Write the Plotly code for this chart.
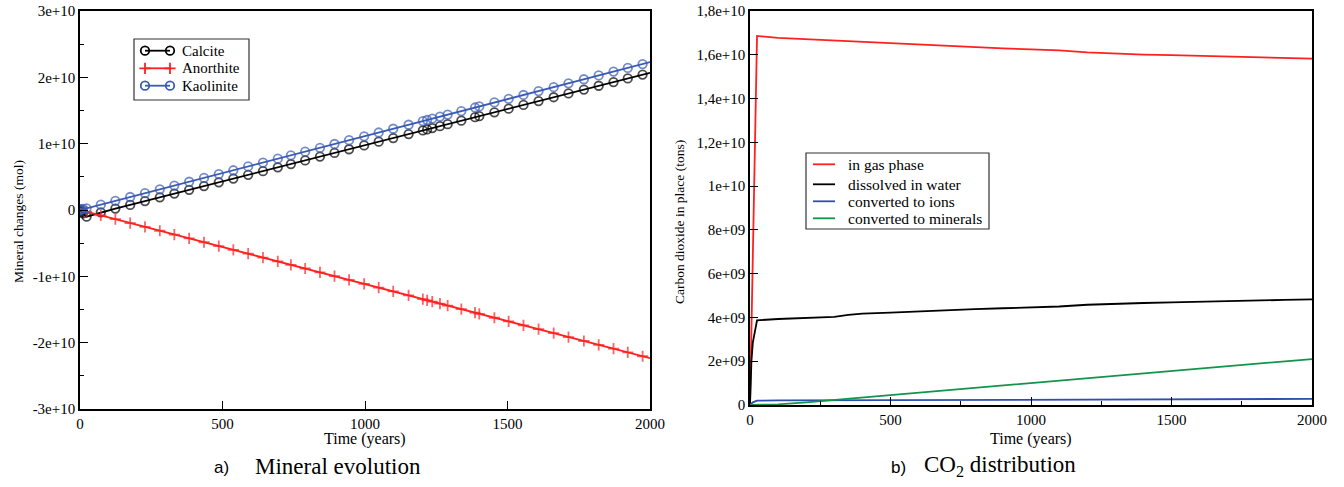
import plotly.graph_objects as go

# ---------------- Panel a) Mineral evolution ----------------
t_min = [0, 2, 5, 10, 23, 73, 124, 176, 228, 280, 331, 383, 435, 487, 538, 590, 642, 694,
         740, 790, 842, 893, 944, 997, 1048, 1099, 1153, 1203, 1218, 1236, 1263, 1290, 1338,
         1386, 1401, 1454, 1504, 1556, 1609, 1662, 1714, 1768, 1820, 1872, 1922, 1974, 2000]
# values in units of 1e9 mol
calcite = [0, -0.1, -0.3, -0.5, -1.0, -0.35, 0.21, 0.77, 1.34, 1.91, 2.47, 3.04, 3.60, 4.17,
           4.73, 5.30, 5.86, 6.43, 6.93, 7.48, 8.05, 8.60, 9.16, 9.74, 10.30, 10.85, 11.44,
           11.99, 12.15, 12.35, 12.64, 12.94, 13.46, 13.99, 14.15, 14.73, 15.28, 15.84, 16.42,
           17.00, 17.57, 18.16, 18.73, 19.29, 19.84, 20.41, 20.69]
anorthite = [0, -0.02, -0.06, -0.11, -0.26, -0.82, -1.39, -1.97, -2.55, -3.13, -3.70, -4.28,
             -4.86, -5.44, -6.01, -6.59, -7.17, -7.75, -8.27, -8.82, -9.41, -9.97, -10.54,
             -11.14, -11.71, -12.28, -12.88, -13.44, -13.61, -13.81, -14.11, -14.41, -14.95,
             -15.48, -15.65, -16.24, -16.80, -17.38, -17.97, -18.56, -19.15, -19.75, -20.33,
             -20.91, -21.47, -22.05, -22.34]
kaolinite = [0, 0.05, 0.10, 0.15, 0.25, 0.81, 1.38, 1.96, 2.54, 3.12, 3.68, 4.26, 4.84, 5.42,
             5.99, 6.57, 7.15, 7.73, 8.25, 8.80, 9.38, 9.95, 10.52, 11.11, 11.68, 12.25, 12.85,
             13.41, 13.57, 13.78, 14.08, 14.38, 14.91, 15.45, 15.62, 16.21, 16.76, 17.34, 17.93,
             18.52, 19.10, 19.71, 20.29, 20.87, 21.42, 22.00, 22.29]

left_ytick_vals = [-3e10, -2e10, -1e10, 0, 1e10, 2e10, 3e10]
left_ytick_text = ["-3e+10", "-2e+10", "-1e+10", "0", "1e+10", "2e+10", "3e+10"]
x_tick_vals = [0, 500, 1000, 1500, 2000]
x_tick_text = ["0", "500", "1000", "1500", "2000"]

# ---------------- Panel b) CO2 distribution ----------------
t_gas = [0, 25, 100, 200, 300, 400, 500, 600, 700, 800, 900, 1000, 1100, 1200, 1300, 1400,
         1500, 1600, 1700, 1800, 1900, 2000]
gas = [0, 1.686, 1.677, 1.671, 1.665, 1.656, 1.650, 1.645, 1.639, 1.634, 1.629, 1.625, 1.620,
       1.611, 1.605, 1.601, 1.598, 1.595, 1.592, 1.589, 1.586, 1.582]  # 1e10 tons

t_diss = [0, 5, 10, 25, 100, 200, 300, 350, 400, 500, 600, 700, 800, 900, 1000, 1100, 1200,
          1300, 1400, 1500, 1600, 1700, 1800, 1900, 2000]
dissolved = [0, 2.0, 2.85, 3.87, 3.93, 3.98, 4.03, 4.12, 4.17, 4.22, 4.28, 4.33, 4.38, 4.42,
             4.46, 4.50, 4.58, 4.63, 4.66, 4.69, 4.71, 4.74, 4.77, 4.80, 4.83]  # 1e9 tons

t_ions = [0, 10, 25, 100, 500, 1000, 1500, 2000]
ions = [0, 0.12, 0.2, 0.21, 0.22, 0.24, 0.26, 0.28]  # 1e9 tons

t_minr = [0, 50, 100, 200, 300, 400, 500, 600, 700, 800, 900, 1000, 1200, 1400, 1600, 1800, 2000]
minerals = [0, 0.0, 0.03, 0.12, 0.23, 0.34, 0.45, 0.56, 0.67, 0.78, 0.90, 1.01, 1.23, 1.45,
            1.67, 1.89, 2.10]  # 1e9 tons

right_ytick_vals = [0, 2e9, 4e9, 6e9, 8e9, 1e10, 1.2e10, 1.4e10, 1.6e10, 1.8e10]
right_ytick_text = ["0", "2e+09", "4e+09", "6e+09", "8e+09", "1e+10", "1,2e+10", "1,4e+10",
                    "1,6e+10", "1,8e+10"]

left_names = ["Calcite", "Anorthite", "Kaolinite"]
right_names = ["in gas phase", "dissolved in water", "converted to ions", "converted to minerals"]

SERIF = "Liberation Serif, Times New Roman, serif"
SANS = "Liberation Sans, Arial, sans-serif"
RED = "#ff2020"
BLUE_L = "#3a5bb5"
BLUE_R = "#2f4fae"
GREEN = "#12944a"

W, H = 1344, 487


def px(xp):
    return xp / W


def py(yp):
    return 1 - yp / H


fig = go.Figure()

n = len(t_min)
msizes = [8.5] * (n - 1) + [0]
psizes = [0, 0, 0, 0] + [8] * (n - 5) + [0]

left_styles = [
    dict(color="black", symbol="circle-open", data=calcite, sizes=msizes, lsize=8.5),
    dict(color=RED, symbol="cross-thin-open", data=anorthite, sizes=psizes, lsize=8),
    dict(color=BLUE_L, symbol="circle-open", data=kaolinite, sizes=msizes, lsize=8.5),
]
for name, st in zip(left_names, left_styles):
    fig.add_trace(go.Scatter(
        x=t_min, y=[v * 1e9 for v in st["data"]], name=name, mode="lines+markers",
        line=dict(color=st["color"], width=1.8),
        marker=dict(symbol=st["symbol"], size=st["sizes"], color=st["color"],
                    line=dict(width=1.8, color=st["color"])),
        xaxis="x", yaxis="y", showlegend=False))

right_series = [(t_gas, [v * 1e10 for v in gas], RED),
                (t_diss, [v * 1e9 for v in dissolved], "black"),
                (t_ions, [v * 1e9 for v in ions], BLUE_R),
                (t_minr, [v * 1e9 for v in minerals], GREEN)]
for name, (tx, vy, col) in zip(right_names, right_series):
    fig.add_trace(go.Scatter(x=tx, y=vy, name=name, mode="lines",
                             line=dict(color=col, width=1.8),
                             xaxis="x2", yaxis="y2", showlegend=False))

# ---- hand-drawn legends on an overlay axis measured in page pixels ----
annotations = []
shapes = []
left_rows = [50.7, 68.3, 85.7]
for name, st, yr in zip(left_names, left_styles, left_rows):
    fig.add_trace(go.Scatter(
        x=[145, 170], y=[yr, yr], mode="lines+markers", showlegend=False, hoverinfo="skip",
        line=dict(color=st["color"], width=1.8),
        marker=dict(symbol=st["symbol"], size=st["lsize"], color=st["color"],
                    line=dict(width=1.8, color=st["color"])),
        xaxis="x3", yaxis="y3"))
    annotations.append(dict(text=name, x=180, y=yr, xref="x3", yref="y3", xanchor="left",
                            yanchor="middle", showarrow=False,
                            font=dict(family=SERIF, size=15, color="black")))
shapes.append(dict(type="rect", xref="x3", yref="y3", x0=134, x1=249, y0=39, y1=100,
                   line=dict(color="#333333", width=1.2), fillcolor="rgba(0,0,0,0)"))

right_rows = [164.3, 184.3, 201.3, 218.3]
for name, (tx, vy, col), yr in zip(right_names, right_series, right_rows):
    fig.add_trace(go.Scatter(
        x=[813, 835], y=[yr, yr], mode="lines", showlegend=False, hoverinfo="skip",
        line=dict(color=col, width=1.8), xaxis="x3", yaxis="y3"))
    annotations.append(dict(text=name, x=846, y=yr, xref="x3", yref="y3", xanchor="left",
                            yanchor="middle", showarrow=False,
                            font=dict(family=SERIF, size=15.5, color="black")))
shapes.append(dict(type="rect", xref="x3", yref="y3", x0=806, x1=989, y0=153, y1=229,
                   line=dict(color="#333333", width=1.2), fillcolor="rgba(0,0,0,0)"))

# ---- axis titles and captions ----
annotations += [
    dict(text="Time (years)", x=365, y=439, xref="x3", yref="y3", xanchor="center",
         yanchor="middle", showarrow=False, font=dict(family=SERIF, size=16, color="black")),
    dict(text="Time (years)", x=1031, y=439, xref="x3", yref="y3", xanchor="center",
         yanchor="middle", showarrow=False, font=dict(family=SERIF, size=16, color="black")),
    dict(text="Mineral changes (mol)", x=18, y=222, xref="x3", yref="y3", xanchor="center",
         yanchor="middle", showarrow=False, textangle=-90,
         font=dict(family=SERIF, size=13.5, color="black")),
    dict(text="Carbon dioxide in place (tons)", x=679, y=222, xref="x3", yref="y3",
         xanchor="center", yanchor="middle", showarrow=False, textangle=-90,
         font=dict(family=SERIF, size=13.5, color="black")),
    dict(text="a)", x=221, y=467, xref="x3", yref="y3", xanchor="center", yanchor="middle",
         showarrow=False, font=dict(family=SANS, size=17, color="black")),
    dict(text="Mineral evolution", x=338, y=466, xref="x3", yref="y3", xanchor="center",
         yanchor="middle", showarrow=False, font=dict(family=SERIF, size=23, color="black")),
    dict(text="b)", x=898, y=467, xref="x3", yref="y3", xanchor="center", yanchor="middle",
         showarrow=False, font=dict(family=SANS, size=17, color="black")),
    dict(text="CO<sub>2</sub> distribution", x=1000, y=466, xref="x3", yref="y3",
         xanchor="center", yanchor="middle", showarrow=False,
         font=dict(family=SERIF, size=23, color="black")),
]

axis_common = dict(showgrid=False, zeroline=False, showline=True, linecolor="black",
                   linewidth=1.5, mirror=True, ticks="inside", ticklen=8, tickwidth=1.2,
                   tickcolor="black", automargin=False, ticklabeloverflow="allow",
                   tickfont=dict(family=SERIF, size=15, color="black"))

fig.update_layout(
    template="none",
    width=W, height=H, margin=dict(l=0, r=0, t=0, b=0, autoexpand=False),
    paper_bgcolor="white", plot_bgcolor="rgba(0,0,0,0)",
    showlegend=False,
    xaxis=dict(domain=[px(80), px(650)], range=[0, 2000], anchor="y",
               tickvals=x_tick_vals, ticktext=x_tick_text, **axis_common),
    yaxis=dict(domain=[py(409), py(11)], range=[-3e10, 3e10], anchor="x",
               tickvals=left_ytick_vals, ticktext=left_ytick_text,
               minor=dict(dtick=5e9, ticks="inside", ticklen=4, tickcolor="black", tickwidth=1.2),
               **axis_common),
    xaxis2=dict(domain=[px(750), px(1312)], range=[0, 2000], anchor="y2",
                tickvals=x_tick_vals, ticktext=x_tick_text,
                minor=dict(dtick=250, ticks="inside", ticklen=4, tickcolor="black", tickwidth=1.2),
                **axis_common),
    yaxis2=dict(domain=[py(405), py(11)], range=[0, 1.8e10], anchor="x2",
                tickvals=right_ytick_vals, ticktext=right_ytick_text, **axis_common),
    xaxis3=dict(domain=[0, 1], range=[0, W], anchor="y3", visible=False,
                automargin=False, fixedrange=True),
    yaxis3=dict(domain=[0, 1], range=[H, 0], anchor="x3", visible=False,
                automargin=False, fixedrange=True),
    annotations=annotations,
    shapes=shapes,
)

# remove the browser's default 8px page margin so the figure fills the window exactly
fig.write_html("out.html", config={"displayModeBar": False},
               post_script="document.body.style.margin='0px';document.body.style.overflow='hidden';")
